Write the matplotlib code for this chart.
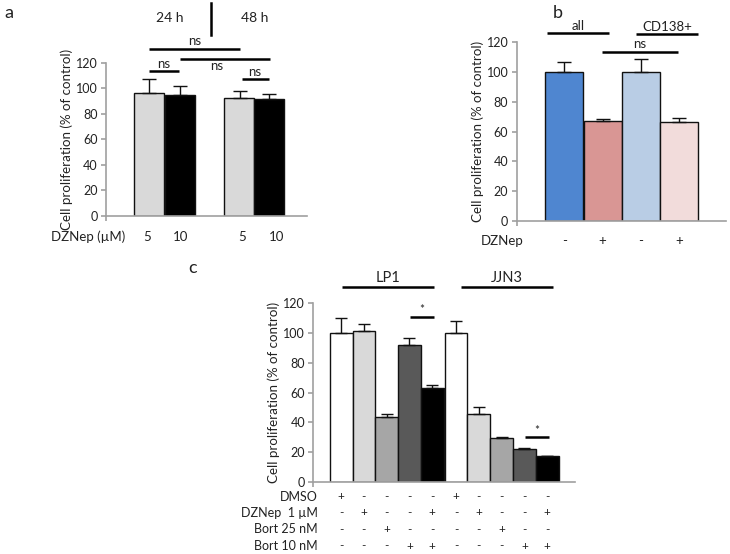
import matplotlib
matplotlib.use('Agg')
from matplotlib import pyplot as plt

plt.rcParams['font.family'] = ['Lato', 'DejaVu Sans']

# panel a
aMeans = [96.5, 94.7, 92.1, 91.6]
aErrors = [10.5, 7, 5.8, 4]
aColors = ['#D9D9D9', '#000000', '#D9D9D9', '#000000']
aDoses = ['5', '10', '5', '10']

# panel b
bMeans = [100, 67.4, 100, 66.3]
bErrors = [7, 1, 9, 3]
bColors = ['#4F86D0', '#D99694', '#B9CDE5', '#F2DCDB']
bDZNep = ['-', '+', '-', '+']

# panel c
cMeans = [100, 101.5, 43.4, 92, 63.3, 100, 45.7, 29.8, 22.2, 17.2]
cErrors = [10, 4.4, 2, 4.5, 1.8, 8.3, 4.9, 0.4, 0.6, 0.3]
cColors = ['#FFFFFF', '#D9D9D9', '#A6A6A6', '#595959', '#000000'] * 2
cRowLabels = ['DMSO', 'DZNep  1 \u00b5M', 'Bort 25 nM', 'Bort 10 nM']
cRows = [
    ['+', '-', '-', '-', '-', '+', '-', '-', '-', '-'],
    ['-', '+', '-', '-', '+', '-', '+', '-', '-', '+'],
    ['-', '-', '+', '-', '-', '-', '-', '+', '-', '-'],
    ['-', '-', '-', '+', '+', '-', '-', '-', '+', '+'],
]

yTicks = [0, 20, 40, 60, 80, 100, 120]
axisGray = '#A0A0A0'
textColor = '#222222'


def styleAxes(ax, xmax):
    ax.set_xlim(0, xmax)
    ax.set_ylim(0, 120)
    ax.set_yticks(yTicks)
    ax.set_xticks([0])
    ax.set_xticklabels([''])
    for side in ['top', 'right']:
        ax.spines[side].set_visible(False)
    for side in ['left', 'bottom']:
        ax.spines[side].set_color(axisGray)
        ax.spines[side].set_linewidth(1.2)
    ax.tick_params(axis='both', colors=axisGray, labelcolor=textColor, labelsize=9,
                   length=3.5, width=1.2, direction='out', pad=2.5)
    ax.set_ylabel('Cell proliferation (% of control)', fontsize=9.6, color=textColor, labelpad=2)


def drawBars(ax, xs, means, errors, colors, width, capsize):
    ax.bar(xs, means, width=width, color=colors, edgecolor='#111111', linewidth=1.0, zorder=2)
    ax.errorbar(xs, means, yerr=[[0] * len(errors), errors], fmt='none', ecolor='#111111',
                elinewidth=1.0, capsize=capsize, capthick=1.0, zorder=3)


def line(ax, x0, x1, y, lw=1.8):
    ax.plot([x0, x1], [y, y], color='black', lw=lw, clip_on=False, solid_capstyle='butt')


def label(ax, x, y, s, size=9, va='center'):
    ax.text(x, y, s, ha='center', va=va, fontsize=size, color=textColor, clip_on=False)


fig = plt.figure(figsize=(7.3, 5.54), dpi=100)

# ---- a
axA = fig.add_axes([106 / 730, 1 - 216 / 554, 201 / 730, 153.3 / 554])
xA = [1.45, 2.45, 4.45, 5.43]
drawBars(axA, xA, aMeans, aErrors, aColors, 1.0, 5)
styleAxes(axA, 6.7)
for x, d in zip([1.37, 2.47, 4.53, 5.7], aDoses):
    label(axA, x, -16.5, d, 9.5)
axA.text(0.63, -16.5, 'DZNep (\u00b5M)', ha='right', va='center', fontsize=9.5,
         color=textColor, clip_on=False)
label(axA, 2.13, 155, '24 h', 10)
label(axA, 4.97, 155, '48 h', 10)
axA.plot([3.5, 3.5], [141.5, 167], color='black', lw=1.8, clip_on=False)
line(axA, 1.45, 4.45, 130.8)
label(axA, 2.95, 132, 'ns', 9.5, 'bottom')
line(axA, 2.45, 5.45, 123)
label(axA, 3.7, 117.5, 'ns', 9.5)
line(axA, 1.45, 2.42, 113.5)
label(axA, 1.93, 114.5, 'ns', 9.5, 'bottom')
line(axA, 4.52, 5.42, 107.3)
label(axA, 4.97, 108.3, 'ns', 9.5, 'bottom')
fig.text(4 / 730, 1 - 13 / 554, 'a', fontsize=13, va='center', color=textColor)

# ---- b
axB = fig.add_axes([516.7 / 730, 1 - 221 / 554, 209.3 / 730, 178.7 / 554])
xB = [1.25, 2.26, 3.26, 4.27]
drawBars(axB, xB, bMeans, bErrors, bColors, 1.0, 5)
styleAxes(axB, 5.51)
for x, s in zip(xB, bDZNep):
    label(axB, x, -13.4, s, 9.5)
axB.text(0.17, -13.4, 'DZNep', ha='right', va='center', fontsize=9.5,
         color=textColor, clip_on=False)
line(axB, 0.8, 2.43, 126.3)
label(axB, 1.62, 127, 'all', 9.5, 'bottom')
line(axB, 3.14, 4.78, 125.6)
label(axB, 3.96, 126.3, 'CD138+', 9.5, 'bottom')
line(axB, 2.25, 4.25, 113.5)
label(axB, 3.25, 114.5, 'ns', 9.5, 'bottom')
fig.text(553 / 730, 1 - 13 / 554, 'b', fontsize=13, va='center', color=textColor)

# ---- c
axC = fig.add_axes([313.3 / 730, 1 - 482 / 554, 261.7 / 730, 178.7 / 554])
xC = [1.22 + i for i in range(5)] + [6.26 + i for i in range(5)]
drawBars(axC, xC, cMeans, cErrors, cColors, 1.0, 4)
styleAxes(axC, 11.48)
rowYs = [-9.9, -20.6, -31.8, -43]
for rowLabel, row, y in zip(cRowLabels, cRows, rowYs):
    axC.text(0.2, y, rowLabel, ha='right', va='center', fontsize=9,
             color=textColor, clip_on=False)
    for x, s in zip(xC, row):
        label(axC, x, y, s, 8.5)
line(axC, 1.25, 5.29, 130.8)
label(axC, 3.27, 132, 'LP1', 10.5, 'bottom')
line(axC, 6.46, 10.5, 130.8)
label(axC, 8.48, 132, 'JJN3', 10.5, 'bottom')
line(axC, 4.24, 5.29, 111)
label(axC, 4.77, 112, '*', 8.5, 'bottom')
line(axC, 9.28, 10.33, 30)
label(axC, 9.8, 31, '*', 8.5, 'bottom')
fig.text(188 / 730, 1 - 268 / 554, 'c', fontsize=13, va='center', color=textColor)

plt.savefig('out.png', dpi=100)
